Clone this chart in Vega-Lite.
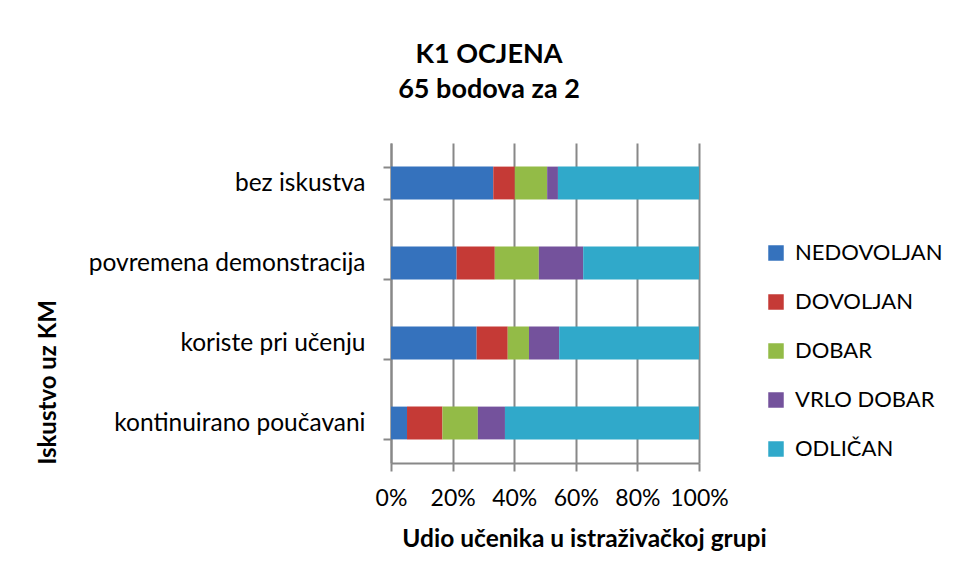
{
  "$schema": "https://vega.github.io/schema/vega-lite/v6.json",
  "width": 308,
  "height": 320,
  "autosize": {"type": "none"},
  "padding": {"left": 391, "top": 143, "right": 256, "bottom": 117},
  "background": "white",
  "title": {
    "text": ["K1 OCJENA", "65 bodova za 2"],
    "font": "Lato",
    "fontSize": 27,
    "fontWeight": "bold",
    "color": "#000000",
    "lineHeight": 35,
    "anchor": "middle",
    "dx": -56,
    "offset": 26
  },
  "data": {
    "values": [
      {"grupa": "bez iskustva", "ocjena": "NEDOVOLJAN", "r": 1, "udio": 33.2},
      {"grupa": "bez iskustva", "ocjena": "DOVOLJAN", "r": 2, "udio": 7.0},
      {"grupa": "bez iskustva", "ocjena": "DOBAR", "r": 3, "udio": 10.5},
      {"grupa": "bez iskustva", "ocjena": "VRLO DOBAR", "r": 4, "udio": 3.5},
      {"grupa": "bez iskustva", "ocjena": "ODLIČAN", "r": 5, "udio": 45.8},
      {"grupa": "povremena demonstracija", "ocjena": "NEDOVOLJAN", "r": 1, "udio": 21.3},
      {"grupa": "povremena demonstracija", "ocjena": "DOVOLJAN", "r": 2, "udio": 12.4},
      {"grupa": "povremena demonstracija", "ocjena": "DOBAR", "r": 3, "udio": 14.3},
      {"grupa": "povremena demonstracija", "ocjena": "VRLO DOBAR", "r": 4, "udio": 14.4},
      {"grupa": "povremena demonstracija", "ocjena": "ODLIČAN", "r": 5, "udio": 37.6},
      {"grupa": "koriste pri učenju", "ocjena": "NEDOVOLJAN", "r": 1, "udio": 27.8},
      {"grupa": "koriste pri učenju", "ocjena": "DOVOLJAN", "r": 2, "udio": 10.1},
      {"grupa": "koriste pri učenju", "ocjena": "DOBAR", "r": 3, "udio": 6.9},
      {"grupa": "koriste pri učenju", "ocjena": "VRLO DOBAR", "r": 4, "udio": 9.8},
      {"grupa": "koriste pri učenju", "ocjena": "ODLIČAN", "r": 5, "udio": 45.4},
      {"grupa": "kontinuirano poučavani", "ocjena": "NEDOVOLJAN", "r": 1, "udio": 5.2},
      {"grupa": "kontinuirano poučavani", "ocjena": "DOVOLJAN", "r": 2, "udio": 11.5},
      {"grupa": "kontinuirano poučavani", "ocjena": "DOBAR", "r": 3, "udio": 11.5},
      {"grupa": "kontinuirano poučavani", "ocjena": "VRLO DOBAR", "r": 4, "udio": 8.8},
      {"grupa": "kontinuirano poučavani", "ocjena": "ODLIČAN", "r": 5, "udio": 63.0}
    ]
  },
  "mark": {"type": "bar"},
  "encoding": {
    "y": {
      "field": "grupa",
      "type": "nominal",
      "sort": ["bez iskustva", "povremena demonstracija", "koriste pri učenju", "kontinuirano poučavani"],
      "scale": {"paddingInner": 0.59, "paddingOuter": 0.295},
      "axis": {
        "title": "Iskustvo uz KM",
        "titleFont": "Lato",
        "titleFontSize": 24,
        "titleFontWeight": "bold",
        "titleColor": "#000000",
        "titleX": -343,
        "titleY": 239,
        "titleAngle": -90,
        "titleAlign": "center",
        "titleBaseline": "middle",
        "labelFont": "Lato",
        "labelFontSize": 24.5,
        "labelLimit": 400,
        "labelColor": "#000000",
        "labelPadding": 18,
        "tickBand": "extent",
        "tickSize": 8,
        "tickColor": "#888888",
        "tickWidth": 2,
        "domainColor": "#888888",
        "domainWidth": 2,
        "grid": false
      }
    },
    "x": {
      "field": "udio",
      "type": "quantitative",
      "stack": "normalize",
      "scale": {"domain": [0, 1]},
      "axis": {
        "title": "Udio učenika u istraživačkoj grupi",
        "titleFont": "Lato",
        "titleFontSize": 24.5,
        "titleFontWeight": "bold",
        "titleColor": "#000000",
        "titleX": 193,
        "titlePadding": 17,
        "format": ".0%",
        "values": [0, 0.2, 0.4, 0.6, 0.8, 1],
        "labelFont": "Lato",
        "labelFontSize": 23,
        "labelColor": "#000000",
        "labelPadding": 16,
        "labelFlush": false,
        "tickSize": 8,
        "tickColor": "#888888",
        "tickWidth": 2,
        "domainColor": "#888888",
        "domainWidth": 2,
        "grid": true,
        "gridColor": "#888888",
        "gridWidth": 2
      }
    },
    "color": {
      "field": "ocjena",
      "type": "nominal",
      "sort": ["NEDOVOLJAN", "DOVOLJAN", "DOBAR", "VRLO DOBAR", "ODLIČAN"],
      "scale": {
        "domain": ["NEDOVOLJAN", "DOVOLJAN", "DOBAR", "VRLO DOBAR", "ODLIČAN"],
        "range": ["#3572bd", "#c53a36", "#93bb47", "#74529c", "#30a9ca"]
      },
      "legend": {
        "title": null,
        "orient": "none",
        "legendX": 374,
        "legendY": 99,
        "symbolType": "square",
        "symbolSize": 240,
        "symbolStrokeWidth": 0,
        "labelFont": "Lato",
        "labelFontSize": 22,
        "labelLimit": 300,
        "labelColor": "#000000",
        "labelOffset": 8,
        "rowPadding": 27
      }
    },
    "order": {"field": "r", "type": "quantitative"}
  },
  "config": {
    "view": {"stroke": null}
  }
}
